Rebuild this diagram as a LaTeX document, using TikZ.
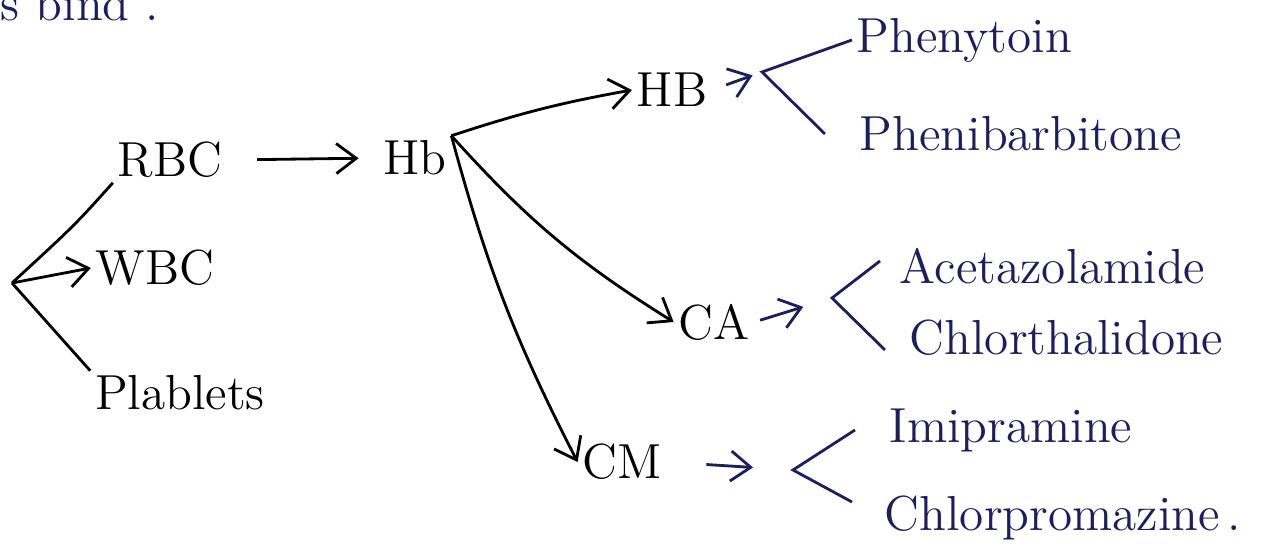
\documentclass[tikz,border=0pt]{standalone}
\usepackage{tikz}
\usetikzlibrary{arrows.meta}
\definecolor{ink}{RGB}{28,30,95}

\begin{document}
\begin{tikzpicture}[>={Straight Barb[length=2mm,width=3mm]},x=.01cm,y=-.01cm,thick,
  every node/.style={font=\fontsize{14}{16}\selectfont,inner sep=1pt},blu/.style={color=ink}]
\useasboundingbox (0,0) rectangle (1262,555);
\node[blu,anchor=base west] (note) at (-4,21){s bind .};
% blood cells
\coordinate (o) at (12,283);
\node (rbc) at (170,160){RBC};\node (wbc) at (155,268){WBC};\node (plt) at (180,393){Plablets};
\draw (o) .. controls (75,225) .. (rbc.south west);\draw[->] (o)--(wbc.west);\draw (o)--(plt.north west);
\node (hb) at (415,158){Hb};\draw[->,shorten <=.3cm,shorten >=.2cm] (rbc.east)--(hb.west);
% three targets
\node (hbx) at (672,90){HB};\node (ca) at (714,322){CA};\node (cm) at (622,462){CM};
\draw[->] (hb.north east) to[bend left=4] (hbx.west);
\draw[->] (hb.north east) to[bend right=8] (ca.west);
\draw[->] (hb.north east) to[bend right=6] (cm.west);
% drugs
\node[blu,anchor=west] (phe) at (852,40){Phenytoin};\node[blu,anchor=west] (pheb) at (855,134){Phenibarbitone};
\node[blu,anchor=west] (ace) at (895,266){Acetazolamide};\node[blu,anchor=west] (chl) at (905,338){Chlorthalidone};
\node[blu,anchor=west] (imi) at (885,430){Imipramine};\node[blu,anchor=west] (cpz) at (880,518){Chlorpromazine\,.};
\coordinate (b1) at (762,72);\coordinate (b2) at (832,298);\coordinate (b3) at (793,470);
\draw[->,blu,shorten <=.15cm,shorten >=.1cm] (hbx.east)--(b1);\draw[blu] (phe.west)--(b1)--([shift={(-30,0)}]pheb.west);
\draw[->,blu,shorten <=.06cm,shorten >=.3cm] (ca.east)--(b2);\draw[blu] ([shift={(-15,-5)}]ace.west)--(b2)--([shift={(-20,12)}]chl.west);
\draw[->,blu,shorten <=.4cm,shorten >=.4cm] (cm.east)--(b3);\draw[blu] ([shift={(-30,0)}]imi.west)--(b3)--([shift={(-28,-16)}]cpz.west);
\end{tikzpicture}
\end{document}
